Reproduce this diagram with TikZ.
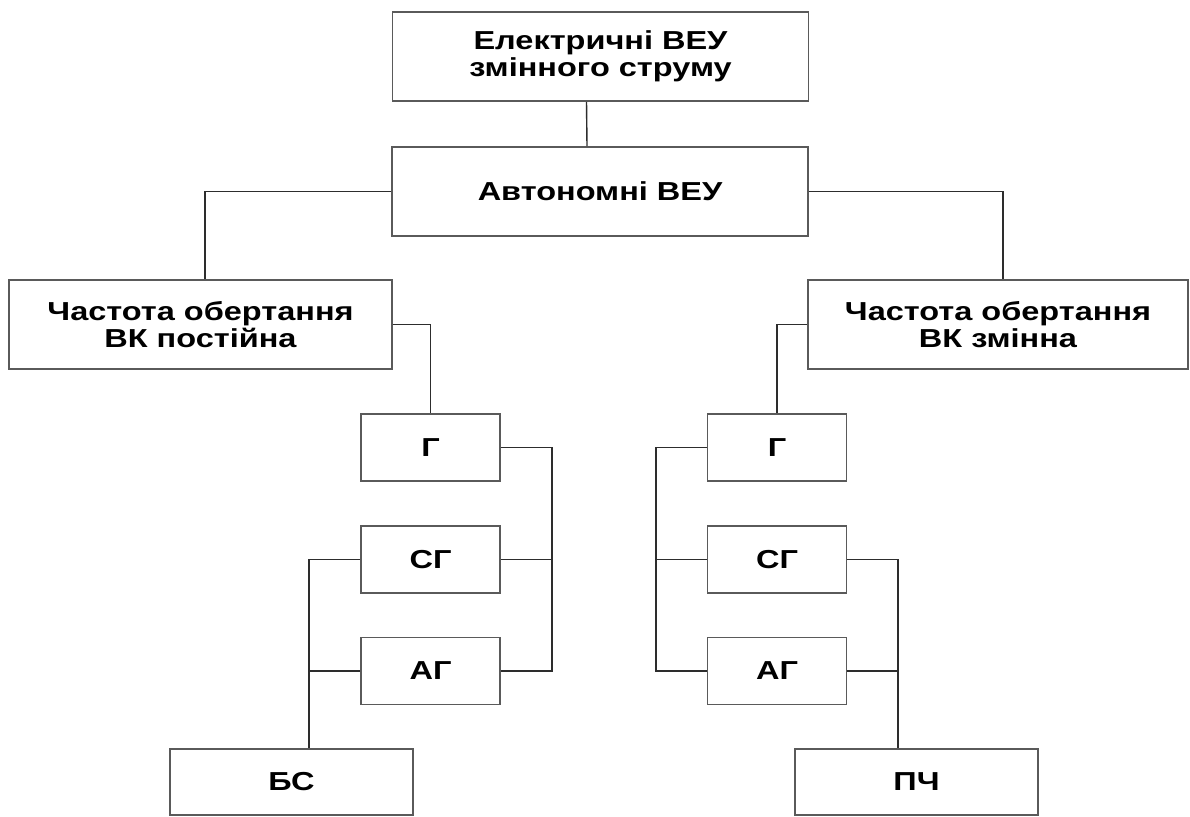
\documentclass[tikz,border=0pt]{standalone}
\usepackage{fontspec}
\newfontfamily\lab[FakeStretch=1.25]{Liberation Sans}
\begin{document}
\begin{tikzpicture}[x=1pt,y=-1pt,
  box/.style={draw={rgb,255:red,90;green,90;blue,90}, line width=1.7pt, fill=white,
    inner sep=0pt, align=center, font=\lab\bfseries\fontsize{26}{27}\selectfont},
  bigbox/.style={box, minimum height=89pt},
  smallbox/.style={box, minimum width=139pt, minimum height=67pt},
  botbox/.style={box, minimum width=243pt, minimum height=66pt},
  wire/.style={draw={rgb,255:red,45;green,45;blue,45}, line width=1.4pt}]
\useasboundingbox (0,0) rectangle (1190,816);
\fill[white] (0,0) rectangle (1190,816);
% nodes
\node[bigbox, minimum width=416pt] (top) at (600.5,56.5) {Електричні ВЕУ\\змінного струму};
\node[bigbox, minimum width=416pt] (auto) at (600,191.5) {Автономні ВЕУ};
\node[bigbox, minimum width=383pt] (lft) at (200.5,324.5) {Частота обертання\\ВК постійна};
\node[bigbox, minimum width=380pt] (rgt) at (998,324.5) {Частота обертання\\ВК змінна};
\node[smallbox] (g1) at (430.5,447.5) {Г};
\node[smallbox] (sg1) at (430.5,559.5) {СГ};
\node[smallbox] (ag1) at (430.5,671) {АГ};
\node[smallbox] (g2) at (777,447.5) {Г};
\node[smallbox] (sg2) at (777,559.5) {СГ};
\node[smallbox] (ag2) at (777,671) {АГ};
\node[botbox] (bs) at (291.5,782) {БС};
\node[botbox] (pc) at (916.5,782) {ПЧ};
% bus coordinates
\coordinate (bR1) at (552,559.5);
\coordinate (bL1) at (309,671);
\coordinate (bL2) at (656,559.5);
\coordinate (bR2) at (898,671);
% connectors
\draw[wire] ([xshift=-14pt]top.south) -- ([xshift=-13pt]auto.north);
\draw[wire] (auto.west) -| ([xshift=4.5pt]lft.north);
\draw[wire] (auto.east) -| ([xshift=5pt]rgt.north);
\draw[wire] (lft.east) -| (g1.north);
\draw[wire] (rgt.west) -| (g2.north);
\draw[wire] (g1.east) -| (bR1) |- (ag1.east);
\draw[wire] (sg1.east) -- (bR1);
\draw[wire] (sg1.west) -| (bL1) -- (bL1 |- bs.north);
\draw[wire] (ag1.west) -- (bL1);
\draw[wire] (g2.west) -| (bL2) |- (ag2.west);
\draw[wire] (sg2.west) -- (bL2);
\draw[wire] (sg2.east) -| (bR2) -- (bR2 |- pc.north);
\draw[wire] (ag2.east) -- (bR2);
\end{tikzpicture}
\end{document}
